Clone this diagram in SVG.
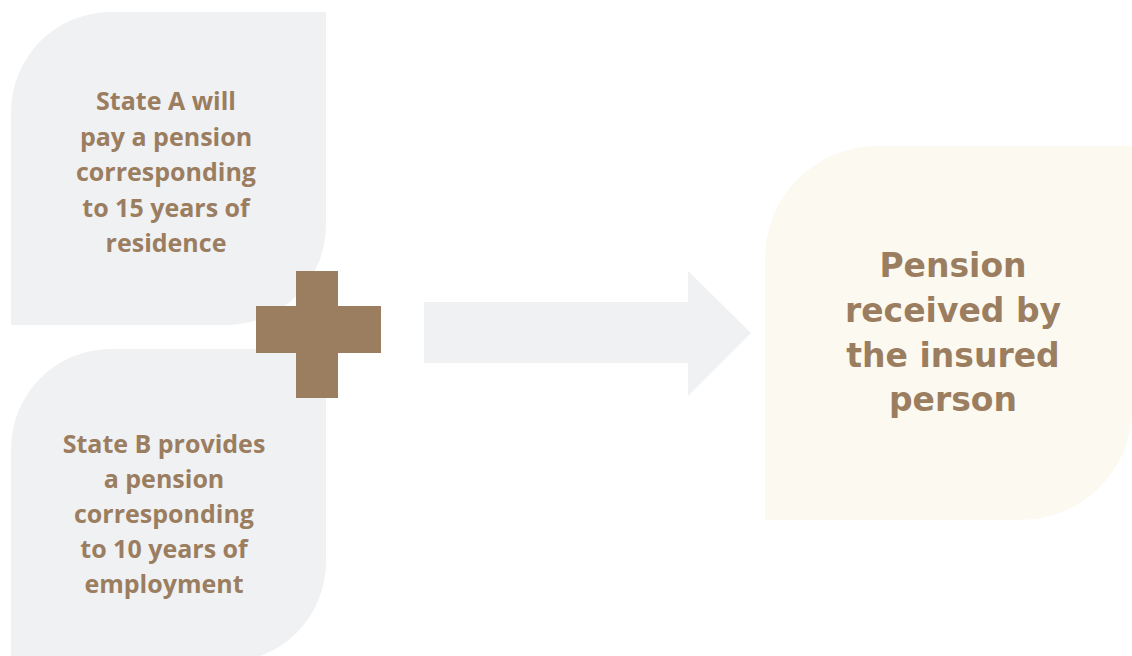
<svg xmlns="http://www.w3.org/2000/svg" width="1132" height="656" viewBox="0 0 1132 656">
<style>
.leaf{fill:#f0f1f3}
.leafc{fill:#fcfaf0}
.lt{font-family:"Open Sans","Liberation Sans",sans-serif;font-weight:700;font-size:25px;fill:#9b7d60;text-anchor:middle}
.rt{font-family:"DejaVu Sans","Liberation Sans",sans-serif;font-weight:bold;font-size:33px;fill:#9b7d60;text-anchor:middle}
</style>
<rect width="1132" height="656" fill="#ffffff"/>
<g id="stateA">
<path class="leaf" d="M11,112 A100,100 0 0 1 111,12 L326,12 L326,225 A100,100 0 0 1 226,325 L11,325 Z"/>
<text class="lt"><tspan x="166" y="110">State A will</tspan><tspan x="166" y="146">pay a pension</tspan><tspan x="166" y="181">corresponding</tspan><tspan x="166" y="217">to 15 years of</tspan><tspan x="166" y="252">residence</tspan></text>
</g>
<g id="stateB">
<path class="leaf" d="M11,449 A100,100 0 0 1 111,349 L326,349 L326,562 A100,100 0 0 1 226,662 L11,662 Z"/>
<text class="lt"><tspan x="164" y="453">State B provides</tspan><tspan x="164" y="488">a pension</tspan><tspan x="164" y="523">corresponding</tspan><tspan x="164" y="558">to 10 years of</tspan><tspan x="164" y="593">employment</tspan></text>
</g>
<g id="plus">
<path fill="#9b7d60" d="M296,271 H338 V306 H381 V353 H338 V398 H296 V353 H256 V306 H296 Z"/>
</g>
<g id="connectors">
<path fill="#f0f1f3" d="M424,302 H688 V271 L751,333 L688,396 V363 H424 Z"/>
</g>
<g id="result">
<path class="leafc" d="M765,258 A112,112 0 0 1 877,146 L1132,146 L1132,410 A112,110 0 0 1 1020,520 L765,520 Z"/>
<text class="rt"><tspan x="953" y="277">Pension</tspan><tspan x="953" y="322">received by</tspan><tspan x="953" y="367">the insured</tspan><tspan x="953" y="411">person</tspan></text>
</g>
</svg>
